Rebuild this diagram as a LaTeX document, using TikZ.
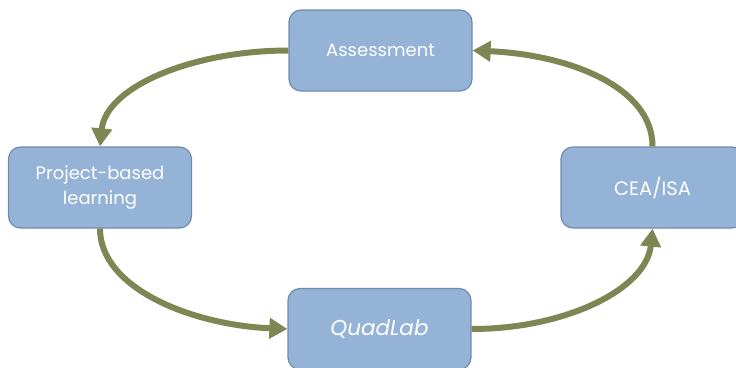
\documentclass[tikz,border=0pt]{standalone}
\usepackage{fontspec}
\setmainfont{Poppins}
\usetikzlibrary{arrows.meta}
\definecolor{boxfill}{RGB}{148,179,214}
\definecolor{boxline}{RGB}{112,140,172}
\definecolor{arrowc}{RGB}{126,134,84}
\begin{document}
\begin{tikzpicture}[x=1pt,y=-1pt,
  stepbox/.style={draw=boxline,line width=1.2pt,fill=boxfill,rounded corners=12pt,
    minimum width=183pt,minimum height=81pt,inner sep=0pt,text=white,align=center,
    font=\fontsize{18}{25}\selectfont},
  arr/.style={draw=arrowc,line width=6pt,-{Triangle[width=20pt,length=18pt]}}]
\useasboundingbox (0,0) rectangle (736,367);
\node[stepbox] (A) at (380.5,50.5) {Assessment};
\node[stepbox] (P) at (100,187.5) {Project-based\\learning};
\node[stepbox,font=\fontsize{19.5}{25}\selectfont] (C) at (652.5,187.5) {CEA/ISA};
\node[stepbox,font=\fontsize{21.5}{25}\selectfont\itshape] (Q) at (379.5,329) {QuadLab};
\draw[arr] (A.west) .. controls +(-95,0) and +(6,-60) .. (P.north);
\draw[arr] (P.south) .. controls +(0,60) and +(-95,-4) .. (Q.west);
\draw[arr] (Q.east) .. controls +(95,0) and +(-6,60) .. (C.south);
\draw[arr] (C.north) .. controls +(0,-60) and +(95,4) .. (A.east);
\end{tikzpicture}
\end{document}
